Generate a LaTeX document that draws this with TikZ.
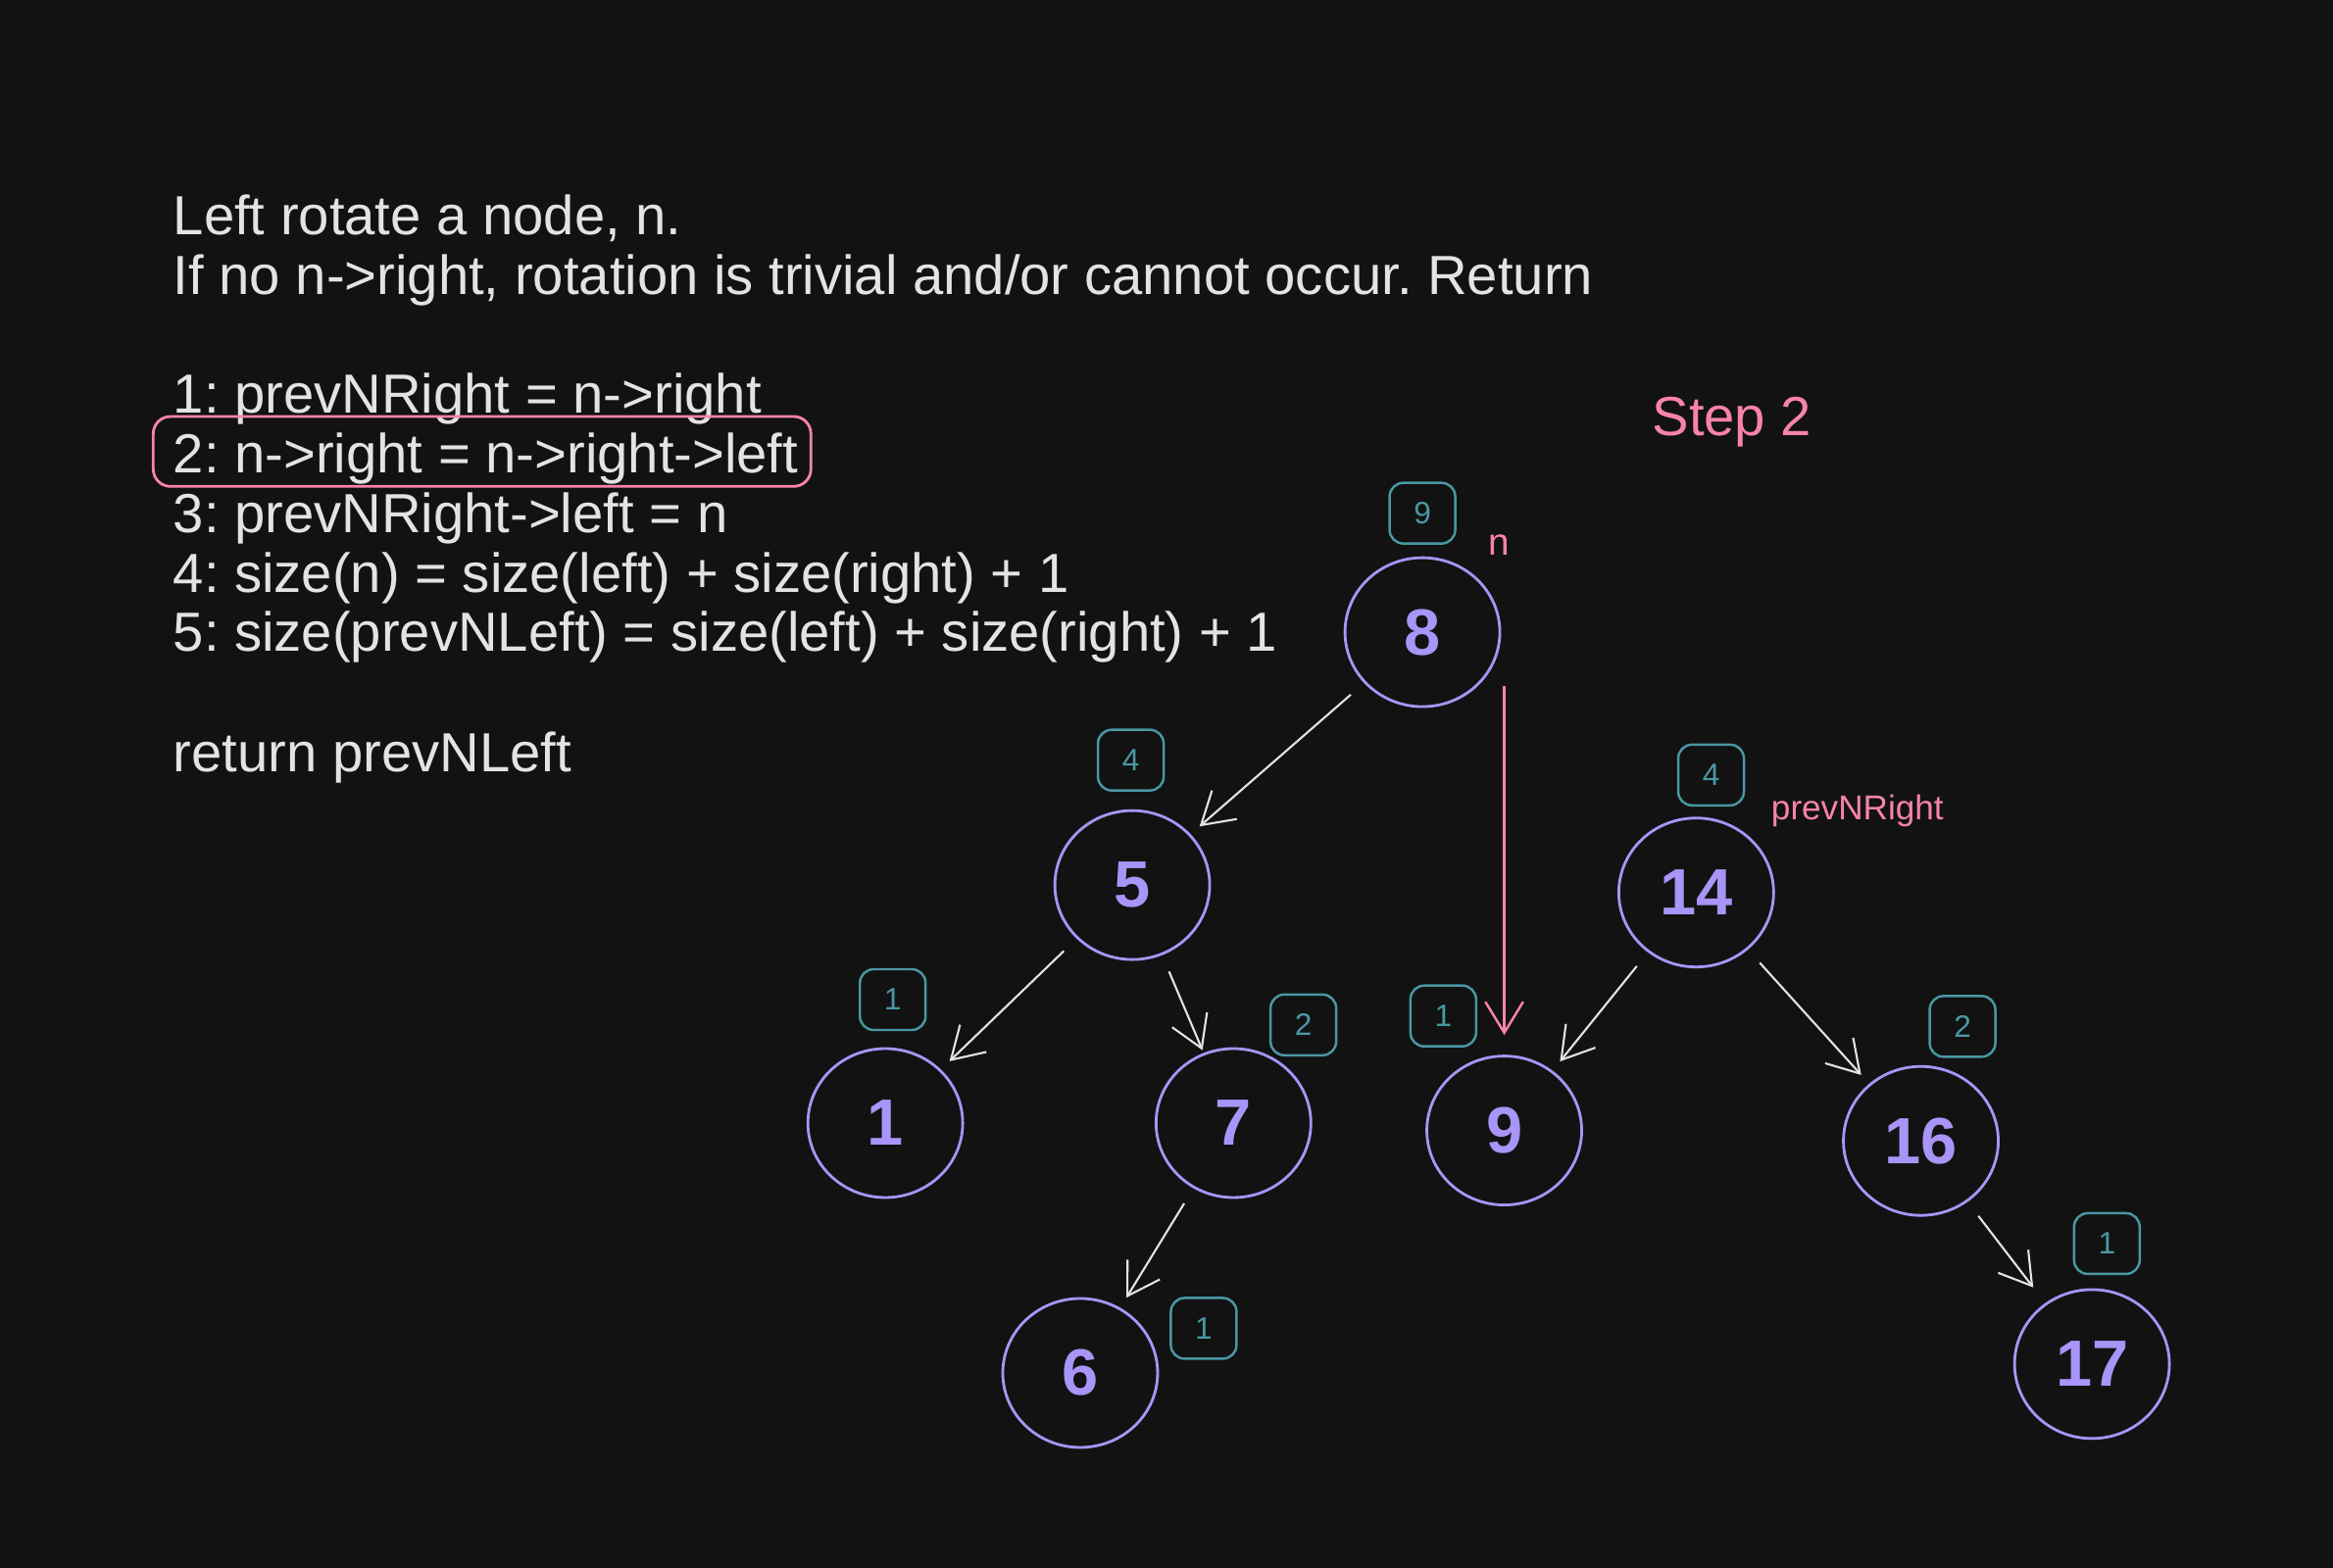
\documentclass[tikz,border=0pt]{standalone}
\usepackage{fontspec}
\setmainfont{Liberation Sans}
\usetikzlibrary{arrows.meta,shapes.geometric,fit,calc}
\definecolor{cbg}{HTML}{121212}
\definecolor{cink}{HTML}{E3E3E3}
\definecolor{cviolet}{HTML}{A895F7}
\definecolor{cteal}{HTML}{4A97A5}
\definecolor{cpink}{HTML}{F783AC}
\frenchspacing
\begin{document}
\begin{tikzpicture}[x=0.015179cm, y=-0.015179cm,
  txt/.style={text=cink, font=\fontsize{16}{19}\selectfont, anchor=base west, inner sep=0pt},
  tnode/.style={ellipse, draw=cviolet, line width=0.8pt, minimum width=1.58cm, minimum height=1.52cm, text=cviolet, font=\fontsize{19}{23}\selectfont\bfseries, inner sep=0pt},
  sbox/.style={draw=cteal, rounded corners=4pt, line width=0.7pt, minimum width=0.67cm, minimum height=0.62cm, text=cteal, font=\fontsize{9}{11}\selectfont, inner sep=0pt},
  link/.style={draw=cink, line width=0.6pt, -{Straight Barb[length=9pt,width=11pt]}, shorten <=0.18cm, shorten >=0.12cm},
  plab/.style={text=cpink, anchor=base west, inner sep=0pt}]
\fill[cbg] (0,0) rectangle (1568,1054);
\useasboundingbox (0,0) rectangle (1568,1054);

% text block
\node[txt] (t1) at (116,158) {Left rotate a node, n.};
\node[txt] (t2) at (116,198) {If no n->right, rotation is trivial and/or cannot occur. Return};
\node[txt] (s1) at (116,278) {1: prevNRight = n->right};
\node[txt] (s2) at (116,318) {2: n->right = n->right->left};
\node[txt] (s3) at (116,358) {3: prevNRight->left = n};
\node[txt] (s4) at (116,398) {4: size(n) = size(left) + size(right) + 1};
\node[txt] (s5) at (116,438) {5: size(prevNLeft) = size(left) + size(right) + 1};
\node[txt] (t3) at (116,519) {return prevNLeft};
\node[draw=cpink, line width=0.8pt, rounded corners=5pt, inner sep=0pt, fit={(103,280) (545,327)}] (hl) {};

% labels
\node[plab, font=\fontsize{16}{19}\selectfont] (step) at (1110,293) {Step 2};
\node[plab, font=\fontsize{11}{13}\selectfont] (lbn) at (1000,373) {n};
\node[plab, font=\fontsize{10}{12}\selectfont] (lbp) at (1190,551) {prevNRight};

% tree nodes
\node[tnode] (n8) at (956,425) {8};
\node[tnode] (n5) at (761,595) {5};
\node[tnode] (n1) at (595,755) {1};
\node[tnode] (n7) at (829,755) {7};
\node[tnode] (n6) at (726,923) {6};
\node[tnode] (n9) at (1011,760) {9};
\node[tnode] (n14) at (1140,600) {14};
\node[tnode] (n16) at (1291,767) {16};
\node[tnode] (n17) at (1406,917) {17};

% size boxes
\node[sbox] (b8) at (956,345) {9};
\node[sbox] (b5) at (760,511) {4};
\node[sbox] (b1) at (600,672) {1};
\node[sbox] (b7) at (876,689) {2};
\node[sbox] (b6) at (809,893) {1};
\node[sbox] (b9) at (970,683) {1};
\node[sbox] (b14) at (1150,521) {4};
\node[sbox] (b16) at (1319,690) {2};
\node[sbox] (b17) at (1416,836) {1};

% edges
\draw[link] (n8) -- (n5);
\draw[link] (n5) -- (n1);
\draw[link, shorten >=0.03cm] (n5) -- (n7);
\draw[link] (n7) -- (n6);
\draw[link] (n14) -- (n9);
\draw[link] (n14) -- (n16);
\draw[link, shorten >=0.2cm] (n16) -- (n17);
\draw[draw=cpink, line width=0.7pt, -{Straight Barb[length=9pt,width=11pt]}, shorten >=0.2cm] (n9.north |- n8.south east) -- (n9.north);
\end{tikzpicture}
\end{document}
